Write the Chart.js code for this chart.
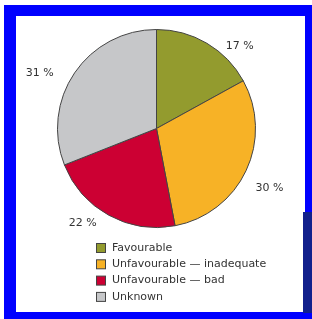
<!DOCTYPE html>
<html>
<head>
<meta charset="utf-8">
<script src="https://cdn.jsdelivr.net/npm/chart.js"></script>
<style>
  body { margin: 0; background: #fff; }
  #frame { position: absolute; left: 4px; top: 5px; width: 308px; height: 314px; background: #0000ff; }
  #inner { position: absolute; left: 16px; top: 16px; width: 289px; height: 296px; background: #fff; }
  #navy { position: absolute; left: 303px; top: 212px; width: 9px; height: 101px; background: #12208c; }
  canvas { display: block; }
</style>
</head>
<body>
<div id="frame"></div>
<div id="inner"><canvas id="pie" width="289" height="296"></canvas></div>
<div id="navy"></div>
<script>
// Дані
const categories = ['Favourable', 'Unfavourable — inadequate', 'Unfavourable — bad', 'Unknown'];
const shares = [17, 30, 22, 31];
const sliceColours = ['#939b2e', '#f7b226', '#cc0033', '#c6c7c9'];

const FONT = '11px "DejaVu Sans", Verdana, sans-serif';
const TEXT = '#333333';

// Підписи відсотків навколо пирога
const percentLabels = {
  id: 'percentLabels',
  afterDatasetsDraw(chart, args, opts) {
    const ctx = chart.ctx;
    const meta = chart.getDatasetMeta(0);
    ctx.save();
    ctx.font = FONT;
    ctx.fillStyle = TEXT;
    ctx.textAlign = 'center';
    ctx.textBaseline = 'middle';
    meta.data.forEach((arc, i) => {
      const p = arc.getProps(['x', 'y', 'startAngle', 'endAngle'], true);
      const mid = (p.startAngle + p.endAngle) / 2 + opts.shift[i] * Math.PI / 180;
      const d = opts.dist[i];
      ctx.fillText(shares[i] + ' %', p.x + Math.cos(mid) * d, p.y + Math.sin(mid) * d);
    });
    ctx.restore();
  }
};

// Легенда стовпчиком під пирогом
const columnLegend = {
  id: 'columnLegend',
  afterDraw(chart, args, opts) {
    const ctx = chart.ctx;
    ctx.save();
    ctx.font = FONT;
    ctx.textBaseline = 'middle';
    categories.forEach((c, i) => {
      const y = opts.top + i * opts.step;
      ctx.fillStyle = sliceColours[i];
      ctx.fillRect(opts.left + 0.5, y - 4.5, 9, 9);
      ctx.strokeStyle = '#444';
      ctx.lineWidth = 1;
      ctx.strokeRect(opts.left + 0.5, y - 4.5, 9, 9);
      ctx.fillStyle = TEXT;
      ctx.fillText(c, opts.left + 16, y);
    });
    ctx.restore();
  }
};

new Chart(document.getElementById('pie').getContext('2d'), {
  type: 'pie',
  data: {
    labels: categories,
    datasets: [{
      data: shares,
      backgroundColor: sliceColours,
      borderColor: '#444444',
      borderWidth: 1
    }]
  },
  options: {
    responsive: false,
    animation: false,
    layout: { padding: { left: 41, top: 13, right: 49, bottom: 84 } },
    plugins: {
      legend: { display: false },
      tooltip: { enabled: false },
      percentLabels: { shift: [14.7, 2.8, 9.1, -9], dist: [117, 128, 120, 129] },
      columnLegend: { left: 80, top: 232, step: 16.3 }
    }
  },
  plugins: [percentLabels, columnLegend]
});
</script>
</body>
</html>
